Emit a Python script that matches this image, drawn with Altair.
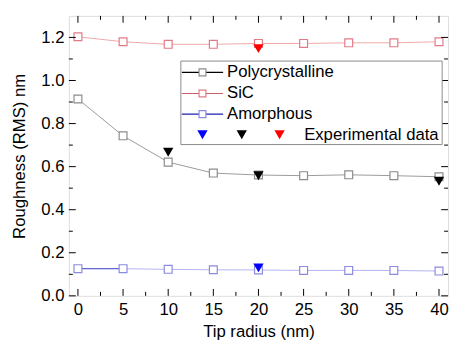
import altair as alt
import pandas as pd

# ---- data ----
radius = [0, 5, 10, 15, 20, 25, 30, 35, 40]
poly = [0.914, 0.743, 0.621, 0.570, 0.561, 0.558, 0.562, 0.558, 0.553]
sic = [1.203, 1.180, 1.168, 1.168, 1.172, 1.172, 1.175, 1.175, 1.180]
amorph = [0.126, 0.126, 0.123, 0.121, 0.120, 0.118, 0.118, 0.118, 0.115]

exp_radius = [10, 20, 40, 20, 20]
exp_value = [0.667, 0.558, 0.532, 1.148, 0.130]
exp_series = ["Polycrystalline", "Polycrystalline", "Polycrystalline", "SiC", "Amorphous"]

x_major = [0, 5, 10, 15, 20, 25, 30, 35, 40]
x_minor = [2.5, 7.5, 12.5, 17.5, 22.5, 27.5, 32.5, 37.5]
y_major = [0.0, 0.2, 0.4, 0.6, 0.8, 1.0, 1.2]
y_minor = [0.1, 0.3, 0.5, 0.7, 0.9, 1.1]

series_names = ["Polycrystalline", "SiC", "Amorphous"]
line_colors = ["#9a9a9a", "#f0a8a8", "#b4b4f0"]
marker_colors = ["#8c8c8c", "#e27a86", "#8a8ae0"]
legend_line_colors = ["#000000", "#c8606c", "#2020b0"]
exp_colors = ["#000000", "#ff0000", "#0000ff"]

W, H = 386, 285
FONT = "Liberation Sans"
FS = 17

df = pd.DataFrame({
    "radius": radius * 3,
    "value": poly + sic + amorph,
    "series": ["Polycrystalline"] * 9 + ["SiC"] * 9 + ["Amorphous"] * 9,
})
df_exp = pd.DataFrame({"radius": exp_radius, "value": exp_value, "src": exp_series})

xs = alt.Scale(domain=[-1, 41], nice=False, zero=False)
ys = alt.Scale(domain=[0, 1.3], nice=False)

x_enc = alt.X("radius:Q", scale=xs,
              axis=alt.Axis(values=x_major, title="Tip radius (nm)", ticks=False, tickSize=0,
                            domain=False, grid=False, labelPadding=6, titlePadding=6,
                            labelFontSize=FS, titleFontSize=FS, labelFont=FONT, titleFont=FONT,
                            labelColor="#000", titleColor="#000", titleFontWeight="normal"))
y_enc = alt.Y("value:Q", scale=ys,
              axis=alt.Axis(values=y_major, format=".1f", title="Roughness (RMS) nm", ticks=False,
                            tickSize=0, domain=False, grid=False, labelPadding=5, titlePadding=13,
                            labelFontSize=FS, titleFontSize=FS, labelFont=FONT, titleFont=FONT,
                            labelColor="#000", titleColor="#000", titleFontWeight="normal"))

line_scale = alt.Scale(domain=series_names, range=line_colors)
mark_scale = alt.Scale(domain=series_names, range=marker_colors)
exp_scale = alt.Scale(domain=series_names, range=exp_colors)

lines = alt.Chart(df).mark_line(strokeWidth=1).encode(
    x=x_enc, y=y_enc, color=alt.Color("series:N", scale=line_scale, legend=None),
    detail="series:N")

dark_seg = alt.Chart(df[(df.series == "Amorphous") & (df.radius <= 5)]).mark_line(
    strokeWidth=1, color="#5050c8").encode(x=alt.X("radius:Q", scale=xs), y=alt.Y("value:Q", scale=ys))

points = alt.Chart(df).mark_point(shape="square", filled=False, size=64, strokeWidth=1.2,
                                  fill="white", fillOpacity=1).encode(
    x=alt.X("radius:Q", scale=xs), y=alt.Y("value:Q", scale=ys),
    stroke=alt.Stroke("series:N", scale=mark_scale, legend=None))

exp_pts = alt.Chart(df_exp).mark_point(shape="triangle-down", filled=True, size=110,
                                       opacity=1, strokeWidth=0).encode(
    x=alt.X("radius:Q", scale=xs), y=alt.Y("value:Q", scale=ys),
    fill=alt.Fill("src:N", scale=exp_scale, legend=None))

# ---- inward ticks ----
def xticks(vals, length, top):
    d = pd.DataFrame({"t": vals})
    if top:
        yy, yy2 = alt.value(0), alt.value(length)
    else:
        yy, yy2 = alt.value(H), alt.value(H - length)
    return alt.Chart(d).mark_rule(color="#000", strokeWidth=1).encode(
        x=alt.X("t:Q", scale=xs), y=yy, y2=yy2)

def yticks(vals, length, right):
    d = pd.DataFrame({"t": vals})
    if right:
        xx, xx2 = alt.value(W), alt.value(W - length)
    else:
        xx, xx2 = alt.value(0), alt.value(length)
    return alt.Chart(d).mark_rule(color="#000", strokeWidth=1).encode(
        y=alt.Y("t:Q", scale=ys), x=xx, x2=xx2)

ticks = [xticks(x_major, 7, False), xticks(x_minor, 4, False),
         xticks(x_major, 7, True), xticks(x_minor, 4, True),
         yticks(y_major, 7, False), yticks(y_minor, 4, False),
         yticks(y_major, 7, True), yticks(y_minor, 4, True)]

# ---- manual legend ----
one = alt.Data(values=[{"a": 1}])
leg = []
leg.append(alt.Chart(one).mark_rect(fill="white", stroke="#8a8a8a", strokeWidth=1).encode(
    x=alt.value(114), x2=alt.value(380), y=alt.value(46), y2=alt.value(131)))
row_y = [57.5, 79, 100]
for name, ly, lc, mc in zip(series_names, row_y, legend_line_colors, marker_colors):
    leg.append(alt.Chart(one).mark_rule(color=lc, strokeWidth=1.2).encode(
        x=alt.value(115), x2=alt.value(157), y=alt.value(ly)))
    leg.append(alt.Chart(one).mark_point(shape="square", filled=False, size=49, stroke=mc,
                                         fill="white", fillOpacity=1, strokeWidth=1.2).encode(
        x=alt.value(136), y=alt.value(ly)))
    leg.append(alt.Chart(one).mark_text(text=name, align="left", baseline="middle", font=FONT,
                                        fontSize=FS, color="#000").encode(
        x=alt.value(161), y=alt.value(ly)))
for tx, tc in zip([136, 176, 214.5], ["#0000ff", "#000000", "#ff0000"]):
    leg.append(alt.Chart(one).mark_point(shape="triangle-down", filled=True, size=110, fill=tc,
                                         opacity=1, strokeWidth=0).encode(
        x=alt.value(tx), y=alt.value(121)))
leg.append(alt.Chart(one).mark_text(text="Experimental data", align="left", baseline="middle", font=FONT,
                                    fontSize=FS, color="#000").encode(
    x=alt.value(239.5), y=alt.value(121)))

chart = alt.layer(lines, dark_seg, points, exp_pts, *ticks, *leg).properties(
    width=W, height=H, autosize="none",
    padding={"left": 62, "top": 5, "right": 2, "bottom": 46},
).configure_view(stroke="#000", strokeWidth=1.5).configure(background="white")

chart.save("out.html", embed_options={"renderer": "svg", "actions": False})
